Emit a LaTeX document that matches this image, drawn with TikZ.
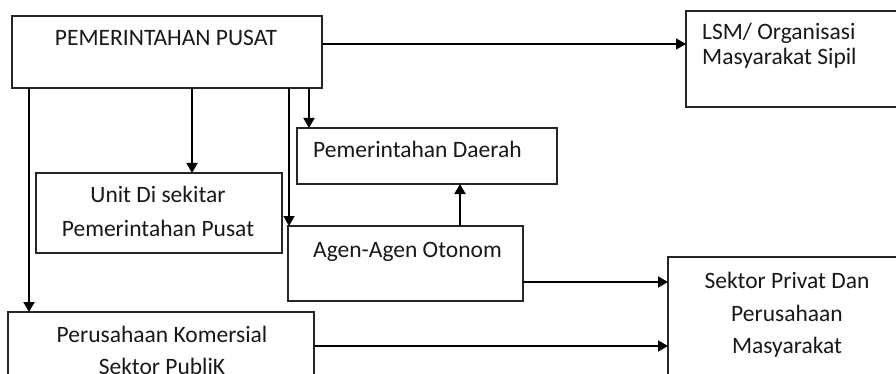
\documentclass[tikz,border=0pt]{standalone}
\usepackage{fontspec}
\setmainfont{Carlito}
\usetikzlibrary{arrows.meta}
\begin{document}
\begin{tikzpicture}[x=1pt,y=-1pt,
  box/.style={draw=black!85, line width=1.1pt, rectangle, inner sep=0pt, outer sep=0pt, anchor=north west},
  txt/.style={font=\fontsize{23.5}{25}\selectfont, inner sep=0pt, text=black!90},
  link/.style={draw=black, line width=1.8pt, -{Triangle[length=10pt,width=11pt]}}]
\clip (0,0) rectangle (896,374);
\fill[white] (0,0) rectangle (896,374);

% boxes
\node[box, minimum width=310pt, minimum height=72pt]  (pusat)  at (12,16)  {};
\node[box, minimum width=230pt, minimum height=96pt]  (lsm)    at (686,11) {};
\node[box, minimum width=260pt, minimum height=56pt]  (daerah) at (297,128) {};
\node[box, minimum width=235pt, minimum height=75pt]  (agen)   at (288,226) {};
\node[box, minimum width=246pt, minimum height=80pt]  (unit)   at (36,173) {};
\node[box, minimum width=306pt, minimum height=120pt] (perus)  at (8,312)  {};
\node[box, minimum width=250pt, minimum height=150pt] (sektor) at (668,257) {};

% labels
\node[txt, anchor=base] (tpusat) at (166,46) {PEMERINTAHAN PUSAT};
\node[txt, anchor=base west] (tlsm1) at (702,40) {LSM/ Organisasi};
\node[txt, anchor=base west] (tlsm2) at (702,65) {Masyarakat Sipil};
\node[txt, anchor=base west] (tdaerah) at (313,158) {Pemerintahan Daerah};
\node[txt, anchor=base west] (tagen) at (313,257) {Agen-Agen Otonom};
\node[txt, anchor=base] (tunit1) at (158,203) {Unit Di sekitar};
\node[txt, anchor=base] (tunit2) at (158,236) {Pemerintahan Pusat};
\node[txt, anchor=base] (tperus1) at (162,342) {Perusahaan Komersial};
\node[txt, anchor=base] (tperus2) at (162,374) {Sektor PubliK};
\node[txt, anchor=base] (tsek1) at (787,288) {Sektor Privat Dan};
\node[txt, anchor=base] (tsek2) at (787,321) {Perusahaan};
\node[txt, anchor=base] (tsek3) at (787,353) {Masyarakat};

% connectors
\draw[link] ([yshift=-28pt]pusat.north east) -- ([yshift=-33pt]lsm.north west);
\draw[link] ([xshift=297pt]pusat.south west) -- ([xshift=12pt]daerah.north west);
\draw[link] ([xshift=277pt]pusat.south west) -- ([xshift=1pt]agen.north west);
\draw[link] ([xshift=180pt]pusat.south west) -- ([xshift=156pt]unit.north west);
\draw[link] ([xshift=17pt]pusat.south west) -- ([xshift=21pt]perus.north west);
\draw[link] ([xshift=172pt]agen.north west) -- ([xshift=163pt]daerah.south west);
\draw[link] ([yshift=-56pt]agen.north east) -- ([yshift=-25pt]sektor.north west);
\draw[link] ([yshift=-34pt]perus.north east) -- ([yshift=-89pt]sektor.north west);
\end{tikzpicture}
\end{document}
